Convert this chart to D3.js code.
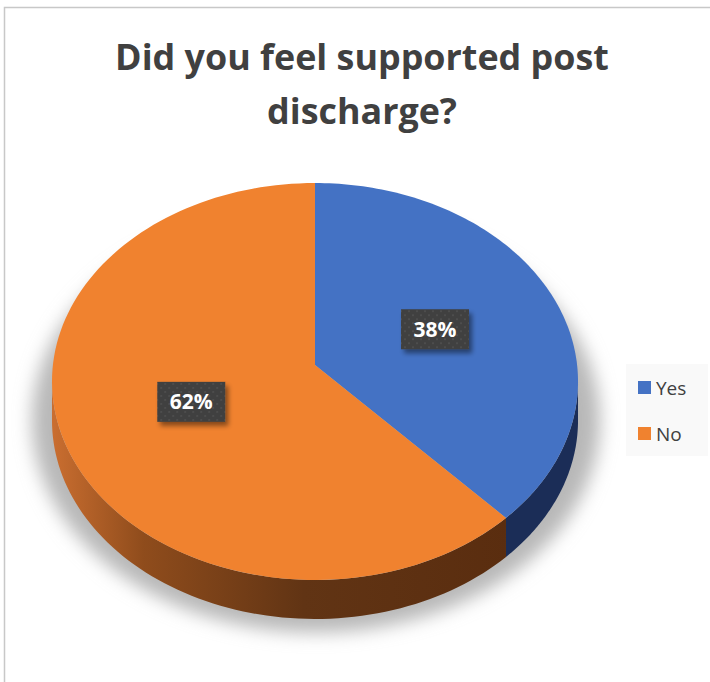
<!DOCTYPE html>
<html><head><meta charset="utf-8">
<script src="https://cdn.jsdelivr.net/npm/d3@7"></script>
<style>body{margin:0;background:#fff;}svg{display:block;}</style>
</head><body>
<svg id="c" width="710" height="682"></svg>
<script>
const categories = ["Yes", "No"];
const values = [38, 62];
const topColors = ["#4472c4", "#f0822f"];
const titleLines = ["Did you feel supported post", "discharge?"];

const svg = d3.select("#c");
const font = "'Open Sans', 'Liberation Sans', sans-serif";
const defs = svg.append("defs");

// Frame
svg.append("rect").attr("x", 4.5).attr("y", 7.5).attr("width", 720).attr("height", 700)
  .attr("fill", "#fff").attr("stroke", "#c8c8c8").attr("stroke-width", 1.5);

// Perspective geometry (homography of a flat disc)
const X0 = 315, Y0 = 365, A = 262.1, B = 197.1, p = 0.0831, depth = 39;
const pt = (a, k = 1, dy = 0) => {
  const u = k * Math.sin(a), v = k * Math.cos(a), den = 1 + p * v;
  return [X0 + A * u / den, Y0 - B * v / den + dy];
};

const pie = d3.pie().sort(null).value(d => d)(values);

// Shadow
const f = defs.append("filter").attr("id", "blur").attr("x", "-20%").attr("y", "-20%").attr("width", "140%").attr("height", "140%");
f.append("feGaussianBlur").attr("stdDeviation", 9);
svg.append("ellipse").attr("cx", 316).attr("cy", 381.5 + depth).attr("rx", 284).attr("ry", 212)
  .attr("fill", "#b8b8b8").attr("filter", "url(#blur)");

// Side gradients
const gO = defs.append("linearGradient").attr("id", "sideNo").attr("gradientUnits", "userSpaceOnUse")
  .attr("x1", 52).attr("x2", 510).attr("y1", 0).attr("y2", 0);
gO.append("stop").attr("offset", 0).attr("stop-color", "#ca6e30");
gO.append("stop").attr("offset", 0.2).attr("stop-color", "#8f4c1c");
gO.append("stop").attr("offset", 0.55).attr("stop-color", "#613414");
gO.append("stop").attr("offset", 1).attr("stop-color", "#5a2d0f");
const sideFill = ["#1b2d57", "url(#sideNo)"];

const aMin = Math.acos(-p), aMax = 2 * Math.PI - Math.acos(-p);
function sidePath(a0, a1) {
  const s = Math.max(a0, aMin), e = Math.min(a1, aMax);
  if (e <= s) return null;
  const n = 80, top = [], bot = [];
  for (let i = 0; i <= n; i++) {
    const a = s + (e - s) * i / n;
    top.push(pt(a)); bot.push(pt(a, 1, depth));
  }
  return "M" + top.map(q => q.join(",")).join("L") + "L" + bot.reverse().map(q => q.join(",")).join("L") + "Z";
}
function topPath(a0, a1) {
  const n = 120, pts = [pt(0, 0)];
  for (let i = 0; i <= n; i++) pts.push(pt(a0 + (a1 - a0) * i / n));
  return "M" + pts.map(q => q.join(",")).join("L") + "Z";
}

svg.append("g").selectAll("path").data(pie).join("path")
  .attr("d", d => sidePath(d.startAngle, d.endAngle))
  .attr("fill", (d, i) => sideFill[i]);
svg.append("g").selectAll("path").data(pie).join("path")
  .attr("d", d => topPath(d.startAngle, d.endAngle))
  .attr("fill", (d, i) => topColors[i]);

// Label patterns
const pat = defs.append("pattern").attr("id", "dots").attr("patternUnits", "userSpaceOnUse")
  .attr("width", 8).attr("height", 8);
pat.append("rect").attr("width", 8).attr("height", 8).attr("fill", "#3f3f3f");
pat.append("rect").attr("x", 1).attr("y", 1).attr("width", 2).attr("height", 2).attr("fill", "#4d4d4d");
pat.append("rect").attr("x", 5).attr("y", 5).attr("width", 2).attr("height", 2).attr("fill", "#4d4d4d");
const fs = defs.append("filter").attr("id", "lblShadow").attr("x", "-30%").attr("y", "-30%").attr("width", "160%").attr("height", "160%");
fs.append("feGaussianBlur").attr("in", "SourceAlpha").attr("stdDeviation", 2.5).attr("result", "b");
fs.append("feOffset").attr("dx", 3).attr("dy", 4).attr("result", "o");
fs.append("feComponentTransfer").append("feFuncA").attr("type", "linear").attr("slope", 0.45);
const m = fs.append("feMerge"); m.append("feMergeNode"); m.append("feMergeNode").attr("in", "SourceGraphic");

const total = d3.sum(values);
const lbl = svg.append("g").selectAll("g").data(pie).join("g")
  .attr("transform", d => {
    const q = pt((d.startAngle + d.endAngle) / 2, 0.5);
    return `translate(${q[0]},${q[1]})`;
  });
lbl.append("rect").attr("x", -34).attr("y", -20).attr("width", 68).attr("height", 40)
  .attr("fill", "url(#dots)").attr("filter", "url(#lblShadow)");
lbl.append("text").attr("text-anchor", "middle").attr("dy", "0.36em")
  .attr("font-family", font).attr("font-weight", 700).attr("font-size", 21).attr("fill", "#fff")
  .text(d => Math.round(d.value / total * 100) + "%");

// Title
const tg = svg.append("g");
const t1 = tg.append("text").attr("x", 362).attr("y", 70).attr("text-anchor", "middle")
  .attr("font-family", font).attr("font-weight", 700).attr("font-size", 36).attr("fill", "#404040")
  .text(titleLines[0]);
const w = t1.node().getComputedTextLength();
const size = 36 * 494 / w;
t1.attr("font-size", size);
tg.append("text").attr("x", 362).attr("y", 124).attr("text-anchor", "middle")
  .attr("font-family", font).attr("font-weight", 700).attr("font-size", size).attr("fill", "#404040")
  .text(titleLines[1]);

// Legend
svg.append("rect").attr("x", 626).attr("y", 364).attr("width", 82).attr("height", 92).attr("fill", "#f9f9f9");
const lg = svg.append("g").selectAll("g").data(categories).join("g")
  .attr("transform", (d, i) => `translate(638,${388 + i * 46})`);
lg.append("rect").attr("x", 0).attr("y", -7).attr("width", 13).attr("height", 13)
  .attr("fill", (d, i) => topColors[i]);
lg.append("text").attr("x", 18).attr("dy", "0.35em").attr("font-family", font)
  .attr("font-size", 19).attr("fill", "#404040").text(d => d);
</script>
</body></html>
